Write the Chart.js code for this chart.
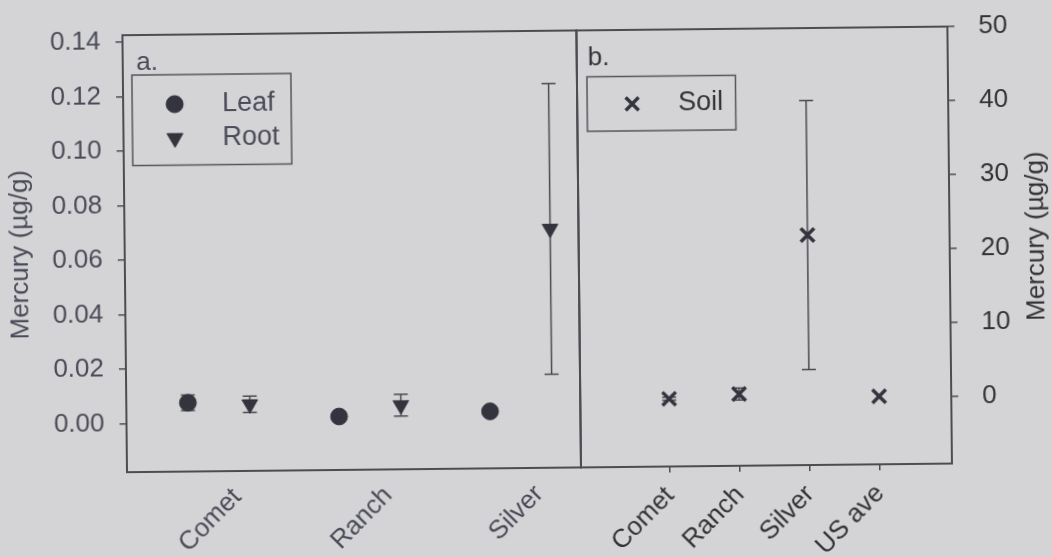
<!DOCTYPE html>
<html>
<head>
<meta charset="utf-8">
<title>Mercury in plants and soil</title>
<script src="https://cdn.jsdelivr.net/npm/chart.js@4.4.1/dist/chart.umd.min.js"></script>
<style>
  html, body { margin: 0; padding: 0; background: #d4d4d6; overflow: hidden; }
  #wrap { position: relative; width: 1052px; height: 557px; transform: rotate(-0.6deg); transform-origin: 526px 278.5px; }
  #wrap canvas { position: absolute; left: 0; top: 0; }
</style>
</head>
<body>
<div id="wrap">
  <canvas id="plantChart" width="1052" height="557"></canvas>
  <canvas id="soilChart" width="1052" height="557"></canvas>
</div>
<script>
// ---- data ----
const plantSites = ['Comet', 'Ranch', 'Silver'];
const leafHg     = [0.0075, 0.0019, 0.0032];
const leafHgErr  = [0.0028, 0.0005, 0.0005];
const rootHg     = [0.0067, 0.0058, 0.0699];
const rootHgErr  = [0.0030, 0.0040, 0.0533];
const plantTicks = [0.00, 0.02, 0.04, 0.06, 0.08, 0.10, 0.12, 0.14];

const soilSites  = ['Comet', 'Ranch', 'Silver', 'US ave'];
const soilHg     = [0.05, 0.6, 22.0, 0.09];
const soilHgErr  = [0.2, 0.8, 18.2, 0];
const soilTicks  = [0, 10, 20, 30, 40, 50];

// ---- styling ----
const FONT = "'Liberation Sans', Arial, sans-serif";
const INK = '#34343e';
const AXIS_INK = '#4c4c52';
const TEXT_A = '#4a4b58';
const TEXT_B = '#333337';
const W = 1052, H = 557;
const PLOT_TOP = 31, PLOT_BOTTOM = 468;
const LEFT_AXIS_X = 125, DIVIDER_X = 579, RIGHT_AXIS_X = 950;
const LEAF_SHIFT = -0.32, ROOT_SHIFT = 0.09;   // side-by-side placement within a site

Chart.defaults.font.family = FONT;

// frame around each panel's plotting area
const framePlugin = {
  id: 'frame',
  beforeDatasetsDraw(chart) {
    const { ctx, chartArea: a } = chart;
    ctx.save();
    ctx.strokeStyle = AXIS_INK;
    ctx.lineWidth = 2;
    ctx.strokeRect(a.left, a.top, a.right - a.left, a.bottom - a.top);
    ctx.restore();
  }
};

// vertical error bars with caps, from each dataset's "errors" array
const errorBarPlugin = {
  id: 'errorBars',
  beforeDatasetsDraw(chart) {
    const { ctx } = chart;
    const yScale = chart.scales.y;
    ctx.save();
    ctx.strokeStyle = '#4a4a50';
    ctx.lineWidth = 1.5;
    chart.data.datasets.forEach((ds, di) => {
      if (!ds.errors) return;
      const meta = chart.getDatasetMeta(di);
      meta.data.forEach((pt, i) => {
        const e = ds.errors[i];
        if (!e) return;
        const v = ds.data[i].y;
        const yHi = yScale.getPixelForValue(v + e);
        const yLo = yScale.getPixelForValue(v - e);
        const x = pt.x, cap = 7;
        ctx.beginPath();
        ctx.moveTo(x, yHi); ctx.lineTo(x, yLo);
        ctx.moveTo(x - cap, yHi); ctx.lineTo(x + cap, yHi);
        ctx.moveTo(x - cap, yLo); ctx.lineTo(x + cap, yLo);
        ctx.stroke();
      });
    });
    ctx.restore();
  }
};

// panel tag ("a.", "b.") and boxed legend inside the plotting area
const panelLegendPlugin = {
  id: 'panelLegend',
  afterDraw(chart, args, o) {
    const { ctx, chartArea: a } = chart;
    ctx.save();
    ctx.textBaseline = 'middle';
    ctx.textAlign = 'left';
    ctx.fillStyle = o.textColor;
    ctx.font = '26px ' + FONT;
    ctx.fillText(o.tag, a.left + o.tagX, a.top + o.tagY);

    const bx = a.left + o.box.x, by = a.top + o.box.y;
    ctx.strokeStyle = '#55555a';
    ctx.lineWidth = 1.5;
    ctx.strokeRect(bx, by, o.box.w, o.box.h);

    chart.data.datasets.forEach((ds, i) => {
      const my = by + o.rowY + i * o.rowGap;
      ctx.fillStyle = INK;
      ctx.strokeStyle = INK;
      ctx.lineWidth = ds.pointBorderWidth || 1;
      Chart.helpers.drawPoint(ctx, {
        pointStyle: ds.pointStyle,
        rotation: ds.pointRotation || 0,
        radius: ds.legendRadius,
        borderWidth: ds.pointBorderWidth || 1
      }, bx + o.markX, my);
      ctx.fillStyle = o.textColor;
      ctx.font = '27px ' + FONT;
      ctx.fillText(ds.label, bx + o.textX, my);
    });
    ctx.restore();
  }
};

// right-hand axis title, reading bottom to top
const rightTitlePlugin = {
  id: 'rightTitle',
  afterDraw(chart, args, o) {
    const { ctx, chartArea: a } = chart;
    ctx.save();
    ctx.translate(o.x, (a.top + a.bottom) / 2 + o.dy);
    ctx.rotate(-Math.PI / 2);
    ctx.textAlign = 'center';
    ctx.textBaseline = 'middle';
    ctx.fillStyle = o.color;
    ctx.font = '26px ' + FONT;
    ctx.fillText(o.text, 0, 0);
    ctx.restore();
  }
};

const siteTickBuilder = (names) => (scale) => {
  scale.ticks = names.map((_, i) => ({ value: i + 1 }));
};
const valueTickBuilder = (values) => (scale) => {
  scale.ticks = values.map(v => ({ value: v }));
};
// fixed axis box sizes, so the plotting area lands on the panel frame
const fixHeight = (h) => (s) => { s.height = h; s.paddingLeft = 0; s.paddingRight = 0; };
const fixWidth = (w) => (s) => { s.width = w; s.paddingTop = 0; s.paddingBottom = 0; };

// ---- panel a: leaf and root ----
new Chart(document.getElementById('plantChart'), {
  type: 'scatter',
  data: {
    datasets: [
      {
        label: 'Leaf',
        data: plantSites.map((s, i) => ({ x: i + 1 + LEAF_SHIFT, y: leafHg[i] })),
        errors: leafHgErr,
        pointStyle: 'circle',
        pointRadius: 8.4,
        legendRadius: 8.5,
        pointBackgroundColor: INK,
        pointBorderColor: INK,
        pointBorderWidth: 1,
        showLine: false
      },
      {
        label: 'Root',
        data: plantSites.map((s, i) => ({ x: i + 1 + ROOT_SHIFT, y: rootHg[i] })),
        errors: rootHgErr,
        pointStyle: 'triangle',
        pointRotation: 180,
        pointRadius: 9,
        legendRadius: 9.2,
        pointBackgroundColor: INK,
        pointBorderColor: INK,
        pointBorderWidth: 1,
        showLine: false
      }
    ]
  },
  options: {
    responsive: false,
    animation: false,
    devicePixelRatio: 1,
    events: [],
    layout: { padding: { top: PLOT_TOP, left: 0, right: W - DIVIDER_X, bottom: 0 } },
    plugins: {
      legend: { display: false },
      tooltip: { enabled: false },
      panelLegend: {
        tag: 'a.', tagX: 13.5, tagY: 28,
        box: { x: 9, y: 40, w: 159, h: 90.5 },
        rowY: 29.5, rowGap: 34, markX: 42.5, textX: 90,
        textColor: TEXT_A
      }
    },
    scales: {
      x: {
        type: 'linear',
        min: 0.272, max: 3.278,
        afterBuildTicks: siteTickBuilder(plantSites),
        afterFit: fixHeight(H - PLOT_BOTTOM),
        ticks: {
          autoSkip: false,
          minRotation: 45, maxRotation: 45,
          padding: 5,
          color: TEXT_A,
          font: { size: 26 },
          callback: (v) => plantSites[Math.round(v) - 1]
        },
        grid: { display: true, drawOnChartArea: false, drawTicks: true, tickLength: 6, color: 'rgba(0,0,0,0)' },
        border: { display: false }
      },
      y: {
        min: -0.0177, max: 0.1425,
        afterBuildTicks: valueTickBuilder(plantTicks),
        afterFit: fixWidth(LEFT_AXIS_X),
        ticks: {
          padding: 15,
          color: TEXT_A,
          font: { size: 26 },
          callback: (v) => Number(v).toFixed(2)
        },
        grid: { drawOnChartArea: false, drawTicks: true, tickLength: 7, color: AXIS_INK, lineWidth: 1.5 },
        border: { display: false },
        title: {
          display: true,
          text: 'Mercury (µg/g)',
          color: TEXT_A,
          font: { size: 26 },
          padding: { top: 5, bottom: 0 }
        }
      }
    }
  },
  plugins: [framePlugin, errorBarPlugin, panelLegendPlugin]
});

// ---- panel b: soil ----
new Chart(document.getElementById('soilChart'), {
  type: 'scatter',
  data: {
    datasets: [
      {
        label: 'Soil',
        data: soilSites.map((s, i) => ({ x: i + 1, y: soilHg[i] })),
        errors: soilHgErr,
        pointStyle: 'crossRot',
        pointRadius: 9.5,
        legendRadius: 9.2,
        pointBackgroundColor: INK,
        pointBorderColor: INK,
        pointBorderWidth: 3.5,
        showLine: false
      }
    ]
  },
  options: {
    responsive: false,
    animation: false,
    devicePixelRatio: 1,
    events: [],
    layout: { padding: { top: PLOT_TOP, left: DIVIDER_X, right: 0, bottom: 0 } },
    plugins: {
      legend: { display: false },
      tooltip: { enabled: false },
      panelLegend: {
        tag: 'b.', tagX: 11, tagY: 28,
        box: { x: 10, y: 46.5, w: 148.5, h: 54.5 },
        rowY: 27.5, rowGap: 34, markX: 45, textX: 91,
        textColor: TEXT_B
      },
      rightTitle: { text: 'Mercury (µg/g)', x: 1037, dy: -8, color: TEXT_B }
    },
    scales: {
      x: {
        type: 'linear',
        min: -0.27, max: 5.03,
        afterBuildTicks: siteTickBuilder(soilSites),
        afterFit: fixHeight(H - PLOT_BOTTOM),
        ticks: {
          autoSkip: false,
          minRotation: 45, maxRotation: 45,
          padding: 8,
          color: TEXT_B,
          font: { size: 26 },
          callback: (v) => soilSites[Math.round(v) - 1]
        },
        grid: { display: true, drawOnChartArea: false, drawTicks: true, tickLength: 6, color: AXIS_INK, lineWidth: 1.5 },
        border: { display: false }
      },
      y: {
        position: 'right',
        min: -9.1, max: 50,
        afterBuildTicks: valueTickBuilder(soilTicks),
        afterFit: fixWidth(W - RIGHT_AXIS_X),
        ticks: {
          padding: 24,
          color: TEXT_B,
          font: { size: 26 },
          callback: (v) => String(v)
        },
        grid: { drawOnChartArea: false, drawTicks: true, tickLength: 7, color: AXIS_INK, lineWidth: 1.5 },
        border: { display: false }
      }
    }
  },
  plugins: [framePlugin, errorBarPlugin, panelLegendPlugin, rightTitlePlugin]
});
</script>
</body>
</html>
